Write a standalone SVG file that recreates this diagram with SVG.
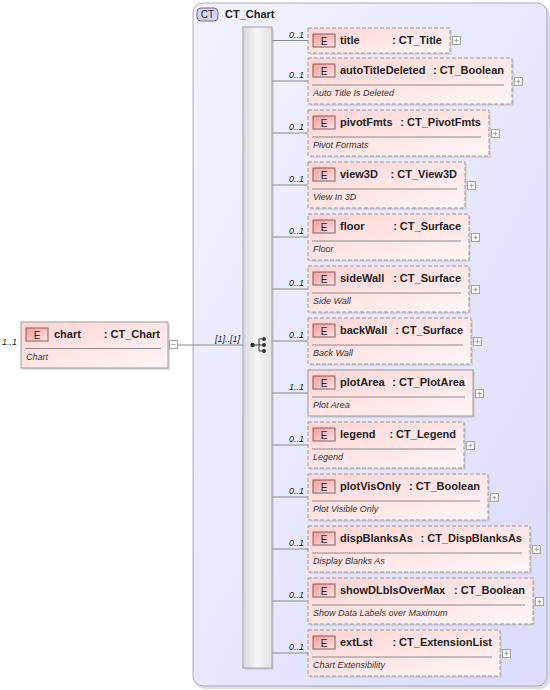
<svg xmlns="http://www.w3.org/2000/svg" width="550" height="690" viewBox="0 0 550 690">
<style>
.box{fill:url(#elGrad);stroke:#9a9a9a;stroke-width:1}
.opt{stroke-dasharray:4,2}
.shadow{fill:#c8c8c8;opacity:0.6}
.badge{fill:url(#badgeGrad);stroke:#8a5a5a;stroke-width:1}
.badgeT{font-family:"Liberation Sans",Arial,sans-serif;font-size:10px;fill:#222;text-anchor:middle}
.name{font-family:"Liberation Sans",Arial,sans-serif;font-size:11px;font-weight:bold;fill:#222}
.type{font-family:"Liberation Sans",Arial,sans-serif;font-size:11px;font-weight:bold;fill:#222;text-anchor:end}
.doc{font-family:"Liberation Sans",Arial,sans-serif;font-size:9px;font-style:italic;fill:#333}
.sep{stroke:#8a8a8a;stroke-width:1}
.mult{font-family:"Liberation Sans",Arial,sans-serif;font-size:9px;font-style:italic;fill:#222;text-anchor:end}
.pm{fill:#fff;stroke:#a0a0a0;stroke-width:1}
.pmS{stroke:#a0a0a0;stroke-width:1}
.conn{stroke:#8a8a8a;stroke-width:1;fill:none}
</style>
<defs>
<linearGradient id="elGrad" x1="0" y1="0" x2="1" y2="1">
<stop offset="0" stop-color="#ffd4d4"/>
<stop offset="1" stop-color="#fff6f6"/>
</linearGradient>
<linearGradient id="badgeGrad" x1="0" y1="0" x2="1" y2="1">
<stop offset="0" stop-color="#f29a9a"/>
<stop offset="1" stop-color="#ffe6e6"/>
</linearGradient>
<linearGradient id="ctGrad" x1="0" y1="0" x2="1" y2="1">
<stop offset="0" stop-color="#f2f2ff"/>
<stop offset="1" stop-color="#dcdcfc"/>
</linearGradient>
<linearGradient id="seqGrad" x1="0" y1="0" x2="1" y2="0">
<stop offset="0" stop-color="#dadada"/>
<stop offset="0.5" stop-color="#f6f6f6"/>
<stop offset="1" stop-color="#e2e2e2"/>
</linearGradient>
</defs>

<g id="CT_Chart_type">
<rect x="195" y="5" width="355" height="684" rx="10" fill="#c8c8c8" opacity="0.6"/>
<rect x="193" y="3" width="354" height="683" rx="10" fill="url(#ctGrad)" stroke="#a8a8c8" stroke-width="1"/>
<rect x="197" y="8" width="21" height="13" rx="4" fill="#d4d4fa" stroke="#6a6a9a" stroke-width="1"/>
<text x="207.5" y="18" class="badgeT">CT</text>
<text x="225" y="18" class="name">CT_Chart</text>
</g>

<g id="sequence">
<rect x="245" y="29" width="29" height="641" class="shadow"/>
<rect x="243" y="27" width="29" height="641" fill="url(#seqGrad)" stroke="#a0a0a0" stroke-width="1"/>
<circle cx="252.5" cy="345" r="2.2" fill="#333"/>
<path d="M252.5 345 H259 M259 339 V351 M259 339 H264 M259 345 H264 M259 351 H264" stroke="#333" stroke-width="1" fill="none"/>
<circle cx="264" cy="339" r="2" fill="#333"/>
<circle cx="264" cy="345" r="2" fill="#333"/>
<circle cx="264" cy="351" r="2" fill="#333"/>
</g>

<g id="connectors">
<line x1="178" y1="345" x2="243" y2="345" class="conn"/>
<text x="240" y="342" class="mult">[1]..[1]</text>
<line x1="272" y1="40.5" x2="308" y2="40.5" class="conn"/>
<line x1="272" y1="81" x2="308" y2="81" class="conn"/>
<line x1="272" y1="133" x2="308" y2="133" class="conn"/>
<line x1="272" y1="185" x2="308" y2="185" class="conn"/>
<line x1="272" y1="237" x2="308" y2="237" class="conn"/>
<line x1="272" y1="289" x2="308" y2="289" class="conn"/>
<line x1="272" y1="341" x2="308" y2="341" class="conn"/>
<line x1="272" y1="393" x2="308" y2="393" class="conn"/>
<line x1="272" y1="445" x2="308" y2="445" class="conn"/>
<line x1="272" y1="497" x2="308" y2="497" class="conn"/>
<line x1="272" y1="549" x2="308" y2="549" class="conn"/>
<line x1="272" y1="601" x2="308" y2="601" class="conn"/>
<line x1="272" y1="653" x2="308" y2="653" class="conn"/>
<text x="304" y="38" class="mult">0..1</text>
<text x="304" y="78" class="mult">0..1</text>
<text x="304" y="130" class="mult">0..1</text>
<text x="304" y="182" class="mult">0..1</text>
<text x="304" y="234" class="mult">0..1</text>
<text x="304" y="286" class="mult">0..1</text>
<text x="304" y="338" class="mult">0..1</text>
<text x="304" y="390" class="mult">1..1</text>
<text x="304" y="442" class="mult">0..1</text>
<text x="304" y="494" class="mult">0..1</text>
<text x="304" y="546" class="mult">0..1</text>
<text x="304" y="598" class="mult">0..1</text>
<text x="304" y="650" class="mult">0..1</text>
</g>

<g id="chart">
<text x="2" y="345" class="mult" style="text-anchor:start">1..1</text>
<rect x="23" y="324" width="147" height="46" class="shadow"/>
<rect x="21" y="322" width="147" height="46" class="box"/>
<rect x="26" y="328" width="22" height="13" class="badge"/>
<text x="37" y="338.5" class="badgeT">E</text>
<text x="54" y="338" class="name">chart</text>
<text x="160" y="338" class="type">: CT_Chart</text>
<line x1="25" y1="348.5" x2="161" y2="348.5" class="sep"/>
<text x="26" y="360" class="doc">Chart</text>
<rect x="169.5" y="340.5" width="8" height="8" class="pm"/>
<line x1="171.5" y1="344.5" x2="175.5" y2="344.5" class="pmS"/>
</g>

<g id="title">
<rect x="310" y="30" width="142" height="25" class="shadow"/>
<rect x="308" y="28" width="142" height="25" class="box opt"/>
<rect x="313" y="34" width="22" height="13" class="badge"/>
<text x="324" y="44.5" class="badgeT">E</text>
<text x="340" y="44" class="name">title</text>
<text x="442" y="44" class="type">: CT_Title</text>
<rect x="452.5" y="36.5" width="8" height="8" class="pm"/>
<path d="M454.5 40.5 H458.5 M456.5 38.5 V42.5" class="pmS"/>
</g>

<g id="autoTitleDeleted">
<rect x="310" y="60" width="204" height="46" class="shadow"/>
<rect x="308" y="58" width="204" height="46" class="box opt"/>
<rect x="313" y="64" width="22" height="13" class="badge"/>
<text x="324" y="74.5" class="badgeT">E</text>
<text x="340" y="74" class="name">autoTitleDeleted</text>
<text x="504" y="74" class="type">: CT_Boolean</text>
<line x1="312" y1="85" x2="504" y2="85" class="sep"/>
<text x="313" y="96" class="doc">Auto Title Is Deleted</text>
<rect x="514.5" y="77.5" width="8" height="8" class="pm"/>
<path d="M516.5 81.5 H520.5 M518.5 79.5 V83.5" class="pmS"/>
</g>

<g id="pivotFmts">
<rect x="310" y="112" width="181" height="46" class="shadow"/>
<rect x="308" y="110" width="181" height="46" class="box opt"/>
<rect x="313" y="116" width="22" height="13" class="badge"/>
<text x="324" y="126.5" class="badgeT">E</text>
<text x="340" y="126" class="name">pivotFmts</text>
<text x="481" y="126" class="type">: CT_PivotFmts</text>
<line x1="312" y1="137" x2="481" y2="137" class="sep"/>
<text x="313" y="148" class="doc">Pivot Formats</text>
<rect x="491.5" y="129.5" width="8" height="8" class="pm"/>
<path d="M493.5 133.5 H497.5 M495.5 131.5 V135.5" class="pmS"/>
</g>

<g id="view3D">
<rect x="310" y="164" width="157" height="46" class="shadow"/>
<rect x="308" y="162" width="157" height="46" class="box opt"/>
<rect x="313" y="168" width="22" height="13" class="badge"/>
<text x="324" y="178.5" class="badgeT">E</text>
<text x="340" y="178" class="name">view3D</text>
<text x="457" y="178" class="type">: CT_View3D</text>
<line x1="312" y1="189" x2="457" y2="189" class="sep"/>
<text x="313" y="200" class="doc">View In 3D</text>
<rect x="467.5" y="181.5" width="8" height="8" class="pm"/>
<path d="M469.5 185.5 H473.5 M471.5 183.5 V187.5" class="pmS"/>
</g>

<g id="floor">
<rect x="310" y="216" width="161" height="46" class="shadow"/>
<rect x="308" y="214" width="161" height="46" class="box opt"/>
<rect x="313" y="220" width="22" height="13" class="badge"/>
<text x="324" y="230.5" class="badgeT">E</text>
<text x="340" y="230" class="name">floor</text>
<text x="461" y="230" class="type">: CT_Surface</text>
<line x1="312" y1="241" x2="461" y2="241" class="sep"/>
<text x="313" y="252" class="doc">Floor</text>
<rect x="471.5" y="233.5" width="8" height="8" class="pm"/>
<path d="M473.5 237.5 H477.5 M475.5 235.5 V239.5" class="pmS"/>
</g>

<g id="sideWall">
<rect x="310" y="268" width="161" height="46" class="shadow"/>
<rect x="308" y="266" width="161" height="46" class="box opt"/>
<rect x="313" y="272" width="22" height="13" class="badge"/>
<text x="324" y="282.5" class="badgeT">E</text>
<text x="340" y="282" class="name">sideWall</text>
<text x="461" y="282" class="type">: CT_Surface</text>
<line x1="312" y1="293" x2="461" y2="293" class="sep"/>
<text x="313" y="304" class="doc">Side Wall</text>
<rect x="471.5" y="285.5" width="8" height="8" class="pm"/>
<path d="M473.5 289.5 H477.5 M475.5 287.5 V291.5" class="pmS"/>
</g>

<g id="backWall">
<rect x="310" y="320" width="163" height="46" class="shadow"/>
<rect x="308" y="318" width="163" height="46" class="box opt"/>
<rect x="313" y="324" width="22" height="13" class="badge"/>
<text x="324" y="334.5" class="badgeT">E</text>
<text x="340" y="334" class="name">backWall</text>
<text x="463" y="334" class="type">: CT_Surface</text>
<line x1="312" y1="345" x2="463" y2="345" class="sep"/>
<text x="313" y="356" class="doc">Back Wall</text>
<rect x="473.5" y="337.5" width="8" height="8" class="pm"/>
<path d="M475.5 341.5 H479.5 M477.5 339.5 V343.5" class="pmS"/>
</g>

<g id="plotArea">
<rect x="310" y="372" width="165" height="46" class="shadow"/>
<rect x="308" y="370" width="165" height="46" class="box"/>
<rect x="313" y="376" width="22" height="13" class="badge"/>
<text x="324" y="386.5" class="badgeT">E</text>
<text x="340" y="386" class="name">plotArea</text>
<text x="465" y="386" class="type">: CT_PlotArea</text>
<line x1="312" y1="397" x2="465" y2="397" class="sep"/>
<text x="313" y="408" class="doc">Plot Area</text>
<rect x="475.5" y="389.5" width="8" height="8" class="pm"/>
<path d="M477.5 393.5 H481.5 M479.5 391.5 V395.5" class="pmS"/>
</g>

<g id="legend">
<rect x="310" y="424" width="156" height="46" class="shadow"/>
<rect x="308" y="422" width="156" height="46" class="box opt"/>
<rect x="313" y="428" width="22" height="13" class="badge"/>
<text x="324" y="438.5" class="badgeT">E</text>
<text x="340" y="438" class="name">legend</text>
<text x="456" y="438" class="type">: CT_Legend</text>
<line x1="312" y1="449" x2="456" y2="449" class="sep"/>
<text x="313" y="460" class="doc">Legend</text>
<rect x="466.5" y="441.5" width="8" height="8" class="pm"/>
<path d="M468.5 445.5 H472.5 M470.5 443.5 V447.5" class="pmS"/>
</g>

<g id="plotVisOnly">
<rect x="310" y="476" width="180" height="46" class="shadow"/>
<rect x="308" y="474" width="180" height="46" class="box opt"/>
<rect x="313" y="480" width="22" height="13" class="badge"/>
<text x="324" y="490.5" class="badgeT">E</text>
<text x="340" y="490" class="name">plotVisOnly</text>
<text x="480" y="490" class="type">: CT_Boolean</text>
<line x1="312" y1="501" x2="480" y2="501" class="sep"/>
<text x="313" y="512" class="doc">Plot Visible Only</text>
<rect x="490.5" y="493.5" width="8" height="8" class="pm"/>
<path d="M492.5 497.5 H496.5 M494.5 495.5 V499.5" class="pmS"/>
</g>

<g id="dispBlanksAs">
<rect x="310" y="528" width="222" height="46" class="shadow"/>
<rect x="308" y="526" width="222" height="46" class="box opt"/>
<rect x="313" y="532" width="22" height="13" class="badge"/>
<text x="324" y="542.5" class="badgeT">E</text>
<text x="340" y="542" class="name">dispBlanksAs</text>
<text x="522" y="542" class="type">: CT_DispBlanksAs</text>
<line x1="312" y1="553" x2="522" y2="553" class="sep"/>
<text x="313" y="564" class="doc">Display Blanks As</text>
<rect x="532.5" y="545.5" width="8" height="8" class="pm"/>
<path d="M534.5 549.5 H538.5 M536.5 547.5 V551.5" class="pmS"/>
</g>

<g id="showDLblsOverMax">
<rect x="310" y="580" width="225" height="46" class="shadow"/>
<rect x="308" y="578" width="225" height="46" class="box opt"/>
<rect x="313" y="584" width="22" height="13" class="badge"/>
<text x="324" y="594.5" class="badgeT">E</text>
<text x="340" y="594" class="name">showDLblsOverMax</text>
<text x="525" y="594" class="type">: CT_Boolean</text>
<line x1="312" y1="605" x2="525" y2="605" class="sep"/>
<text x="313" y="616" class="doc">Show Data Labels over Maximum</text>
<rect x="535.5" y="597.5" width="8" height="8" class="pm"/>
<path d="M537.5 601.5 H541.5 M539.5 599.5 V603.5" class="pmS"/>
</g>

<g id="extLst">
<rect x="310" y="632" width="192" height="46" class="shadow"/>
<rect x="308" y="630" width="192" height="46" class="box opt"/>
<rect x="313" y="636" width="22" height="13" class="badge"/>
<text x="324" y="646.5" class="badgeT">E</text>
<text x="340" y="646" class="name">extLst</text>
<text x="492" y="646" class="type">: CT_ExtensionList</text>
<line x1="312" y1="657" x2="492" y2="657" class="sep"/>
<text x="313" y="668" class="doc">Chart Extensibility</text>
<rect x="502.5" y="649.5" width="8" height="8" class="pm"/>
<path d="M504.5 653.5 H508.5 M506.5 651.5 V655.5" class="pmS"/>
</g>
</svg>
